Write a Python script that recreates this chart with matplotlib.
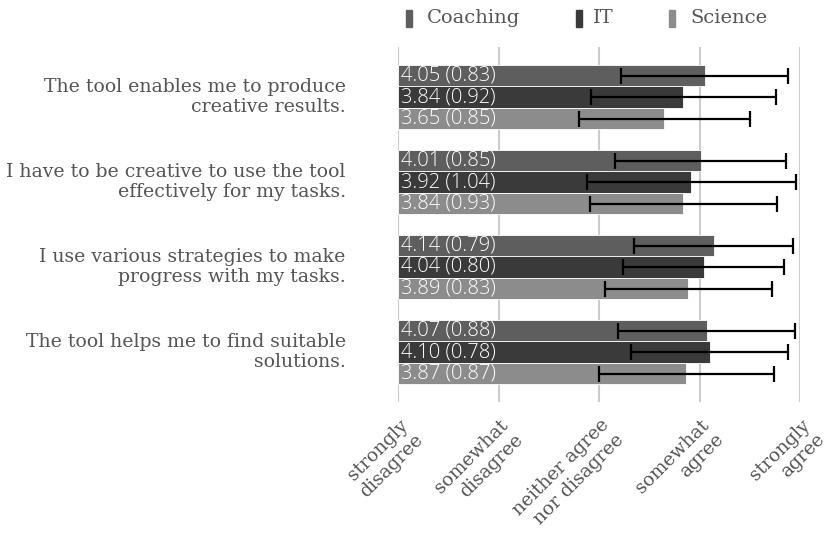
import matplotlib
matplotlib.use("Agg")
import matplotlib.pyplot as plt
import numpy as np
from matplotlib.patches import Rectangle

categories = [
    "The tool enables me to produce\ncreative results.",
    "I have to be creative to use the tool\neffectively for my tasks.",
    "I use various strategies to make\nprogress with my tasks.",
    "The tool helps me to find suitable\nsolutions.",
]
series = ["Coaching", "IT", "Science"]
means = {
    "Coaching": [4.05, 4.01, 4.14, 4.07],
    "IT": [3.84, 3.92, 4.04, 4.10],
    "Science": [3.65, 3.84, 3.89, 3.87],
}
sds = {
    "Coaching": [0.83, 0.85, 0.79, 0.88],
    "IT": [0.92, 1.04, 0.80, 0.78],
    "Science": [0.85, 0.93, 0.83, 0.87],
}
tick_labels = ["strongly\ndisagree", "somewhat\ndisagree", "neither agree\nnor disagree",
               "somewhat\nagree", "strongly\nagree"]
colors = {"Coaching": "#5e5e5e", "IT": "#3a3a3a", "Science": "#8c8c8c"}

W, H = 833, 535
fig = plt.figure(figsize=(W / 100, H / 100), dpi=100)
ax = fig.add_axes([398 / W, 1 - 402 / H, (800 - 398) / W, (402 - 47) / H])

serif = "DejaVu Serif"
txtcol = "#555555"

px = 85.0
ctr0 = 97.0
top = 47.0
bot = 402.0
ylo = (top - ctr0) / px
yhi = (bot - ctr0) / px

bh = 21.5 / px
offsets = [-bh, 0, bh]
for j, s in enumerate(series):
    y = np.arange(len(categories)) + offsets[j]
    ax.barh(y, np.array(means[s]) - 1, left=1, height=bh, color=colors[s],
            edgecolor="white", linewidth=0.6, zorder=2)
    ax.errorbar(means[s], y, xerr=sds[s], fmt="none", ecolor="black",
                elinewidth=1.6, capsize=5.5, capthick=1.6, zorder=3, clip_on=False)
    for i, (m, sd) in enumerate(zip(means[s], sds[s])):
        ax.text(1.03, y[i], f"{m:.2f} ({sd:.2f})", color="white", fontsize=14.5,
                va="center", ha="left", family="Open Sans", fontweight="light", zorder=4)

ax.set_xlim(1, 5)
ax.set_ylim(yhi, ylo)
ax.set_xticks([1, 2, 3, 4, 5])
ax.set_xticklabels([])
ax.set_yticks([])
for sp in ax.spines.values():
    sp.set_visible(False)
ax.tick_params(length=0)
for x in [1, 2, 3, 4, 5]:
    ax.axvline(x, color="#cccccc", linewidth=1.5, zorder=1)

# x tick labels rotated
for x, lab in zip([1, 2, 3, 4, 5], tick_labels):
    ax.annotate(lab, xy=(x, 0), xycoords=("data", "axes fraction"),
                xytext=(0.5, -10), textcoords="offset points",
                ha="right", va="top", rotation=45, rotation_mode="anchor",
                fontsize=13.5, color=txtcol, family=serif, linespacing=1.2,
                multialignment="right")

# category labels
for i, c in enumerate(categories):
    ax.text(-0.13, i, c, transform=ax.get_yaxis_transform(), ha="right", va="center",
            fontsize=13.6, color=txtcol, family=serif, linespacing=1.15)

# legend
for s, mx, tx in zip(series, [406, 576, 669], [427, 593, 690]):
    fig.patches.append(Rectangle((mx / W, 1 - 27 / H), 6 / W, 17 / H,
                                 transform=fig.transFigure, color=colors[s]))
    fig.text(tx / W, 1 - 18 / H, s, ha="left", va="center", fontsize=14,
             color=txtcol, family=serif)

fig.savefig("out.png", dpi=100)
